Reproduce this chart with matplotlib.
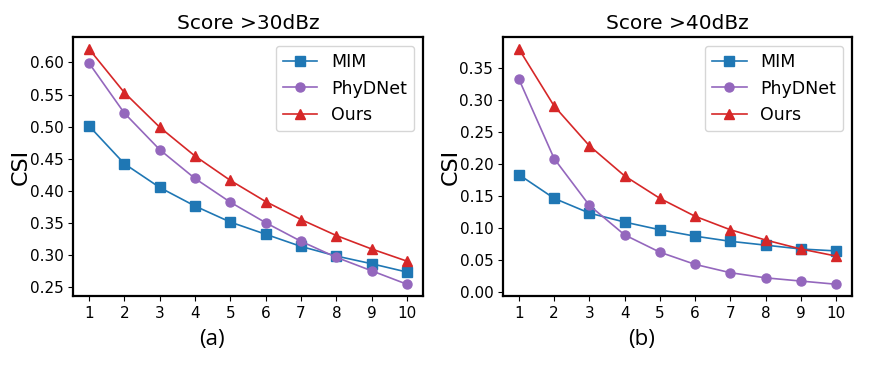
import matplotlib
matplotlib.use('Agg')
import matplotlib.pyplot as plt

steps = [1, 2, 3, 4, 5, 6, 7, 8, 9, 10]

# CSI > 30dBz
mim_30 = [0.501, 0.442, 0.405, 0.376, 0.351, 0.332, 0.313, 0.298, 0.286, 0.273]
phy_30 = [0.599, 0.521, 0.464, 0.419, 0.382, 0.350, 0.321, 0.296, 0.275, 0.254]
ours_30 = [0.621, 0.553, 0.499, 0.454, 0.416, 0.383, 0.355, 0.330, 0.309, 0.290]

# CSI > 40dBz
mim_40 = [0.183, 0.146, 0.123, 0.109, 0.097, 0.087, 0.079, 0.073, 0.067, 0.064]
phy_40 = [0.332, 0.208, 0.135, 0.089, 0.062, 0.043, 0.030, 0.022, 0.017, 0.012]
ours_40 = [0.379, 0.290, 0.228, 0.181, 0.146, 0.118, 0.097, 0.081, 0.067, 0.056]

titles = ['Score >30dBz', 'Score >40dBz']
sublabels = ['(a)', '(b)']
yticks_30 = [0.25, 0.30, 0.35, 0.40, 0.45, 0.50, 0.55, 0.60]
yticks_40 = [0.00, 0.05, 0.10, 0.15, 0.20, 0.25, 0.30, 0.35]

fig = plt.figure(figsize=(8.81, 3.65), dpi=100)
ax1 = fig.add_axes([0.083, 0.189, 0.397, 0.709])
ax2 = fig.add_axes([0.571, 0.189, 0.396, 0.709])

panels = [(ax1, mim_30, phy_30, ours_30, yticks_30),
          (ax2, mim_40, phy_40, ours_40, yticks_40)]
for i, (ax, mim, phy, ours, yt) in enumerate(panels):
    ax.plot(steps, mim, marker='s', color='tab:blue', label='MIM', markersize=6.5, linewidth=1.2)
    ax.plot(steps, phy, marker='o', color='tab:purple', label='PhyDNet', markersize=6.5, linewidth=1.2)
    ax.plot(steps, ours, marker='^', color='tab:red', label='Ours', markersize=6.5, linewidth=1.2)
    ax.set_xticks(steps)
    ax.set_yticks(yt)
    ax.set_yticklabels(['%.2f' % v for v in yt])
    ax.set_title(titles[i], fontsize=14.5)
    ax.set_ylabel('CSI', fontsize=16)
    ax.yaxis.set_label_coords(-0.12, 0.5)
    ax.tick_params(labelsize=11)
    for s in ax.spines.values():
        s.set_linewidth(1.6)
    ax.legend(fontsize=12.5, loc='upper right')

fig.text(212 / 881, 1 - 339 / 365, sublabels[0], ha='center', va='center',
         fontsize=16, family=['Open Sans', 'DejaVu Sans'])
fig.text(642 / 881, 1 - 339 / 365, sublabels[1], ha='center', va='center',
         fontsize=16, family=['Open Sans', 'DejaVu Sans'])

fig.savefig('out.png', dpi=100)
